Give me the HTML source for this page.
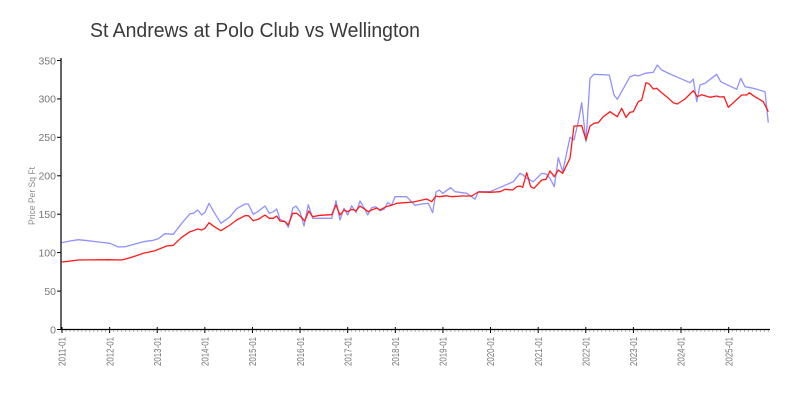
<!DOCTYPE html>
<html><head><meta charset="utf-8"><style>
html,body{margin:0;padding:0;background:#fff;}
svg{display:block;}
text{font-family:"Liberation Sans",sans-serif;}
</style></head><body>
<svg width="800" height="400" viewBox="0 0 800 400" xmlns="http://www.w3.org/2000/svg">
<rect width="800" height="400" fill="#fff"/>
<text x="90" y="37" font-size="20.5" fill="#3a3a3a" textLength="330" lengthAdjust="spacingAndGlyphs">St Andrews at Polo Club vs Wellington</text>
<text transform="translate(35,196) rotate(-90)" font-size="9" fill="#888" text-anchor="middle" textLength="58" lengthAdjust="spacingAndGlyphs">Price Per Sq Ft</text>
<g id="minor" stroke="#aaa" stroke-width="0.8"></g>
<g stroke="#000" stroke-width="1.2" fill="none">
<line x1="61" y1="58" x2="61" y2="330"/>
<line x1="60.5" y1="329.5" x2="770" y2="329.5"/>
</g>
<g stroke="#000" stroke-width="1">
<line x1="57" y1="329.5" x2="61" y2="329.5"/>
<line x1="57" y1="291.1" x2="61" y2="291.1"/>
<line x1="57" y1="252.6" x2="61" y2="252.6"/>
<line x1="57" y1="214.2" x2="61" y2="214.2"/>
<line x1="57" y1="175.8" x2="61" y2="175.8"/>
<line x1="57" y1="137.3" x2="61" y2="137.3"/>
<line x1="57" y1="98.9" x2="61" y2="98.9"/>
<line x1="57" y1="60.5" x2="61" y2="60.5"/>
</g>
<g font-size="10.5" fill="#777" text-anchor="end">
<text x="56" y="333.3">0</text>
<text x="56" y="294.9">50</text>
<text x="56" y="256.4">100</text>
<text x="56" y="218">150</text>
<text x="56" y="179.6">200</text>
<text x="56" y="141.1">250</text>
<text x="56" y="102.7">300</text>
<text x="56" y="64.3">350</text>
</g>
<g id="xt" stroke="#000" stroke-width="1"></g>
<g id="xl" font-size="10.5" fill="#777" text-anchor="end"></g>
<polyline fill="none" stroke="#9191ff" stroke-width="1.3" stroke-linejoin="round" points="61.7,242.7 70,241 78.3,239.7 88.3,240.7 98.3,242 110,243.3 118.3,247 125,246.7 135,244 143.3,241.7 153.3,240.3 158.3,238.7 165,233.7 173.3,234.3 181.7,223.3 190,213.7 193.3,213.3 197.7,210 201.7,215 205,212.3 209,203.3 214.3,212.7 221,223.3 230,216.7 236.7,208.7 245,204 248.3,204 253.3,214.3 258.3,211.3 265,206 269.3,213.3 273.3,211.7 276.7,209 280,219.3 285,221.3 288.3,227.3 292.7,208.3 296,206 300,211.7 304,226 308.3,204.7 312.7,218.3 331.7,218.3 336,200.7 340,220 344,208.3 347.7,215 351.7,205.7 356,212.7 360,201 364,207.7 367.7,215 371.7,207.7 375.7,206.7 380,210.7 384,209.3 387.7,202.7 391.7,205 395,196.7 406.7,196.7 415,205.3 421.7,204 428.3,203.3 432.7,212.7 436,192 439.3,190 442.7,193.3 450.7,187.7 455,191.7 466.7,193.3 471.7,196.7 475,199.3 478.3,191.7 490,191.7 501.7,186.7 513.3,181.7 520,173.3 523.3,175 526.7,178.3 533.3,181.7 541.7,173.3 546,174 550,178.3 554.3,186.7 558.3,157.7 562.7,171.7 570,137.3 574,140 578.3,121.7 581.7,102.7 586,141.7 590,78.3 594,74.3 609.3,75 614,95 617.3,99.3 630,76.7 635,75 638.3,76 645,73.3 653.3,72.3 657.3,65 661.7,70 670,74 680,78.3 690,82.7 693.3,79 696.7,101.7 700,85 705,83.3 716.7,74.3 720.7,81.7 736.7,89.3 740.7,78.3 745,86.7 753.3,88.3 765,91.7 768.3,122.7"/>
<polyline fill="none" stroke="#ff1a1a" stroke-width="1.3" stroke-linejoin="round" points="61.7,262 68.3,261.3 78.3,260 108.3,259.7 121.7,260 131.7,257.3 143.3,253.3 155,250.7 166.7,246 173.3,245.3 181.7,237.3 190,231.7 193.3,230.7 197.7,229 201.7,230 205,228.3 209,222.7 214.3,226.7 221,230.7 230,225 236.7,220 245,215.7 248.3,215.7 253.3,220.7 258.3,219.3 265,215 269.3,218.3 273.3,218.3 276.7,216 280,221 285,221.7 288.3,225 292.7,213.3 296.7,213.3 300.7,216.7 304.7,221 308.7,211 312.7,216.7 320,215.3 331.7,214.7 336,205 340,215 344,210 347.7,211.7 351.7,209.3 356,210.7 360,206 364,208.7 368.3,211.7 371.7,210 376.7,208 380,210 386,206.7 391.7,205.3 396.7,203.3 413.3,202 426.7,199 431.7,201.7 436,196 439.3,196.7 446.7,195.7 451.7,196.7 461.7,196 471.7,196 478.3,192 490,192.3 500,191.7 505,189.3 512.7,190 516.7,186.7 520,186 522.7,187.3 526.7,172.7 530.7,186.7 534,188.3 541.7,180 546,179.3 550,171 554.3,176.7 558.3,170 562.7,173.3 570,158.3 574,126 581.7,125.7 586,140 590,126 594,123.3 598.3,122.7 603.3,116.7 610,111.7 617.3,116.7 621.7,108.3 626,117.3 630,112.3 633.3,111.7 638.3,101.7 641.7,100 646,82.7 649.3,84 653.3,89 656.7,88.3 661.7,92.7 666.7,96.7 673.3,102.7 677.3,104 685,99 693.3,90.7 697.3,96.7 701.7,94.7 710,97.3 716.7,96 720,97 724,96.7 728.3,107.3 741.7,95 746.7,95 749.3,92.7 753.3,95.7 763.3,101.7 768.3,111.7"/>
</svg>
<script>
(function(){
var ns="http://www.w3.org/2000/svg";
var minor=document.getElementById("minor"),xt=document.getElementById("xt"),xl=document.getElementById("xl");
function X(m){return 62+m*3.968;}
for(var m=0;m<=178;m++){
  var x=X(m);
  if(m%12===0){
    var l=document.createElementNS(ns,"line");
    l.setAttribute("x1",x);l.setAttribute("x2",x);l.setAttribute("y1",327);l.setAttribute("y2",333);
    xt.appendChild(l);
    var t=document.createElementNS(ns,"text");
    t.setAttribute("transform","translate("+(x+3.7)+",337) rotate(-90)");
    t.setAttribute("textLength","29");t.setAttribute("lengthAdjust","spacingAndGlyphs");
    t.textContent=(2011+m/12)+"-01";
    xl.appendChild(t);
  } else {
    var l2=document.createElementNS(ns,"line");
    l2.setAttribute("x1",x);l2.setAttribute("x2",x);l2.setAttribute("y1",330);l2.setAttribute("y2",332);
    minor.appendChild(l2);
  }
}
})();
</script>
</body></html>
